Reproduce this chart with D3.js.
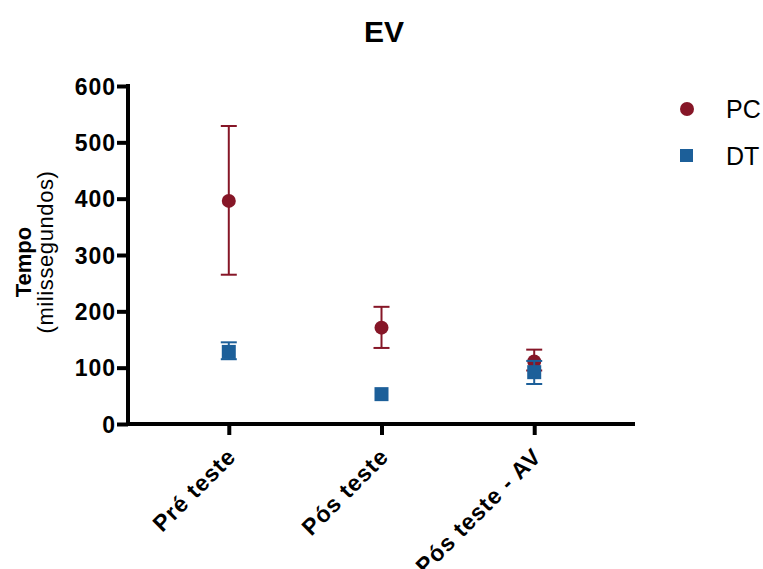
<!DOCTYPE html>
<html lang="en">
  <head>
    <meta charset="utf-8">
    <title>EV</title>
    <script src="https://d3js.org/d3.v7.min.js"></script>
    <style>
      body { margin: 0; background: #fff; }
      svg { display: block; font-family: "Liberation Sans", Arial, sans-serif; }
      .axis path, .axis line { stroke: #000; stroke-width: 4px; }
      .axis text { font-size: 23px; font-weight: bold; fill: #000; letter-spacing: 1px; }
    </style>
  </head>
  <body>
    <script>
      var width = 763, height = 569;
      var categories = ['Pré teste', 'Pós teste', 'Pós teste - AV'];
      var yTicks = [0, 100, 200, 300, 400, 500, 600];
      // mean, lower, upper of error bars
      var pcMean = [396, 171, 111];
      var pcLow = [265, 135, 95];
      var pcHigh = [529, 208, 132];
      var dtMean = [128, 53, 92];
      var dtLow = [115, 53, 71];
      var dtHigh = [145, 53, 112];
      var seriesNames = ['PC', 'DT'];
      var colors = { PC: '#861627', DT: '#1c5f99' };

      var mLeft = 128, mRight = 635, mTop = 86, mBottom = 424;

      var svg = d3.select('body').append('svg')
        .attr('width', width).attr('height', height);

      var y = d3.scaleLinear().domain([0, 600]).range([mBottom, mTop]);
      var x = d3.scalePoint().domain(categories).range([mLeft, mRight]).padding(0.66);

      svg.append('text')
        .attr('x', 384).attr('y', 42)
        .attr('text-anchor', 'middle')
        .style('font-size', '30px').style('font-weight', 'bold')
        .text('EV');

      // y axis
      var yAxis = svg.append('g').attr('class', 'axis')
        .attr('transform', 'translate(' + mLeft + ',0)')
        .call(d3.axisLeft(y).tickValues(yTicks).tickSize(11).tickPadding(1).tickSizeOuter(0));
      yAxis.selectAll('text').attr('dy', '0.36em');
      yAxis.select('.domain').attr('d', 'M0,' + (mTop - 2) + 'V' + (mBottom + 2));

      // x axis
      var xAxis = svg.append('g').attr('class', 'axis')
        .attr('transform', 'translate(0,' + mBottom + ')')
        .call(d3.axisBottom(x).tickSize(11).tickSizeOuter(0));
      xAxis.select('.domain').attr('d', 'M' + (mLeft - 2) + ',0H' + mRight);
      xAxis.selectAll('text')
        .attr('text-anchor', 'end')
        .attr('dy', null)
        .attr('x', 0).attr('y', 0)
        .attr('transform', 'translate(8,34) rotate(-45)');

      // y label
      var yl = svg.append('text')
        .attr('transform', 'translate(31,258) rotate(-90)')
        .attr('text-anchor', 'middle');
      yl.append('tspan').attr('x', -4).attr('dy', 0)
        .style('font-size', '22px').style('font-weight', 'bold').text('Tempo');
      yl.append('tspan').attr('x', 6).attr('dy', 22)
        .style('font-size', '22px').style('letter-spacing', '0.6px').text('(milissegundos)');

      function errorBars(name, lo, hi) {
        var g = svg.append('g').attr('stroke', colors[name]).attr('stroke-width', 2);
        categories.forEach(function (c, i) {
          if (hi[i] - lo[i] < 1) return;
          g.append('line').attr('x1', x(c)).attr('x2', x(c)).attr('y1', y(lo[i])).attr('y2', y(hi[i]));
          [lo[i], hi[i]].forEach(function (v) {
            g.append('line').attr('x1', x(c) - 8).attr('x2', x(c) + 8).attr('y1', y(v)).attr('y2', y(v));
          });
        });
      }

      errorBars('PC', pcLow, pcHigh);
      svg.append('g').selectAll('circle').data(pcMean).join('circle')
        .attr('cx', function (d, i) { return x(categories[i]); })
        .attr('cy', function (d) { return y(d); })
        .attr('r', 7).attr('fill', colors.PC);

      errorBars('DT', dtLow, dtHigh);
      svg.append('g').selectAll('rect').data(dtMean).join('rect')
        .attr('x', function (d, i) { return x(categories[i]) - 7; })
        .attr('y', function (d) { return y(d) - 7; })
        .attr('width', 14).attr('height', 14).attr('fill', colors.DT);

      // legend
      var lg = svg.append('g');
      seriesNames.forEach(function (s, i) {
        var cy = 109 + i * 47;
        if (s === 'PC') lg.append('circle').attr('cx', 687).attr('cy', cy).attr('r', 7).attr('fill', colors[s]);
        else lg.append('rect').attr('x', 680).attr('y', cy - 7).attr('width', 13).attr('height', 13).attr('fill', colors[s]);
        lg.append('text').attr('x', 726).attr('y', cy).attr('dy', '0.36em')
          .style('font-size', '25px').text(s);
      });
    </script>
  </body>
</html>
